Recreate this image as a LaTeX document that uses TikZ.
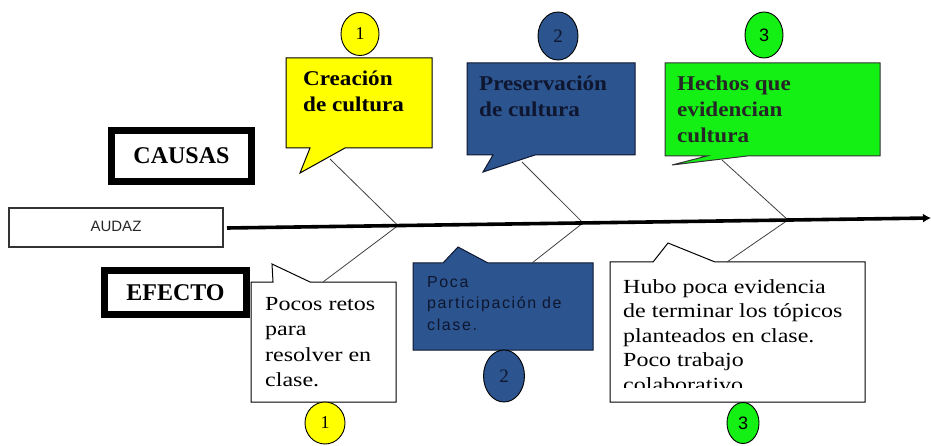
\documentclass[tikz,border=0pt]{standalone}
\usepackage{fontspec}
\setmainfont{Liberation Serif}
\setsansfont{Liberation Sans}
\newfontfamily\serifwide[FakeStretch=1.2]{Liberation Serif}
\newfontfamily\boldwide[FakeStretch=1.1]{Liberation Serif}
\newfontfamily\sanssp[LetterSpace=10]{Liberation Sans}
\usetikzlibrary{shapes.geometric,arrows.meta}
\definecolor{cyel}{RGB}{255,255,0}
\definecolor{cblu}{RGB}{44,84,142}
\definecolor{cgrn}{RGB}{20,240,20}
\definecolor{cnavy}{RGB}{14,22,48}
\tikzset{
  cbox/.style={draw=black, line width=1pt, line join=miter},
  num/.style={ellipse, draw=black, line width=0.9pt, inner sep=0pt},
  txt/.style={anchor=base west, inner sep=0pt, align=left},
  bone/.style={draw=black!75, line width=0.8pt},
  spine/.style={line width=3.6pt, -{Latex[length=8pt,width=9pt]}},
  tagbox/.style={draw=black, line width=7pt, inner sep=0pt, font=\bfseries\fontsize{24}{24}\selectfont},
}
\begin{document}
\begin{tikzpicture}[x=1pt,y=-1pt]
\useasboundingbox (0,0) rectangle (931,446);

% ---- top callouts ----
\path[cbox, fill=cyel] (286,58) -- (432,58) -- (432,148) -- (345,148) -- (300,173) -- (310,148) -- (286,148) -- cycle;
\path[cbox, fill=cblu, draw=cnavy] (467,63) -- (635,63) -- (635,155) -- (535,155) -- (483,172) -- (493,155) -- (467,155) -- cycle;
\path[cbox, fill=cgrn, draw=black!80] (665,63) -- (880,63) -- (880,156) -- (747,156) -- (672,165) -- (707,156) -- (665,156) -- cycle;

% (base anchor of a multi-line node = baseline of its last line)
\node[txt, font=\boldwide\bfseries\fontsize{21}{26}\selectfont] (t1) at (303,112) {Creación\\de cultura};
\node[txt, font=\boldwide\bfseries\fontsize{21}{26}\selectfont, text=cnavy] (t2) at (479,117) {Preservación\\de cultura};
\node[txt, font=\boldwide\bfseries\fontsize{21}{26}\selectfont, text=black!85] (t3) at (677,143) {Hechos que\\evidencian\\cultura};

% ---- bottom callouts ----
\path[cbox] (251,282) -- (273,282) -- (272,264) -- (310,282) -- (396,282) -- (396,402) -- (251,402) -- cycle;
\path[cbox, fill=cblu, draw=cnavy] (413,263) -- (443,263) -- (458,247) -- (488,263) -- (593,263) -- (593,350) -- (413,350) -- cycle;
\path[cbox] (610,262) -- (653,262) -- (668,243) -- (715,262) -- (865,262) -- (865,402) -- (610,402) -- cycle;

\node[txt, font=\serifwide\fontsize{20}{25.5}\selectfont] (b1) at (265,386.5) {Pocos retos\\para\\resolver en\\clase.};
\node[txt, font=\sanssp\fontsize{16}{21.5}\selectfont, text=cnavy] (b2) at (427,330) {Poca\\participación de\\clase.};
\begin{scope}
  \clip (611,263) rectangle (864,387.5);
  \node[txt, font=\serifwide\fontsize{20}{24.6}\selectfont] (b3) at (623,391.4) {Hubo poca evidencia\\de terminar los tópicos\\planteados en clase.\\Poco trabajo\\colaborativo};
\end{scope}

% ---- number ovals ----
\node[num, fill=cyel, minimum width=38pt, minimum height=43pt, font=\fontsize{18}{18}\selectfont] (n1t) at (360,34) {1};
\node[num, fill=cblu, minimum width=40pt, minimum height=48pt, font=\fontsize{19}{19}\selectfont, text=cnavy] (n2t) at (558,36) {2};
\node[num, fill=cgrn, minimum width=38pt, minimum height=46pt, font=\sffamily\fontsize{18}{18}\selectfont] (n3t) at (764,35) {3};
\node[num, fill=cyel, minimum width=40pt, minimum height=42pt, font=\fontsize{18}{18}\selectfont] (n1b) at (325,423) {1};
\node[num, fill=cblu, minimum width=41pt, minimum height=52pt, font=\fontsize{19}{19}\selectfont, text=cnavy] (n2b) at (504,376) {2};
\node[num, fill=cgrn, minimum width=32pt, minimum height=41pt, font=\sffamily\fontsize{18}{18}\selectfont] (n3b) at (743,423) {3};

% ---- labels ----
\node[tagbox, minimum width=140pt, minimum height=51pt] (causas) at (181.5,156) {CAUSAS};
\node[tagbox, minimum width=142pt, minimum height=44pt] (efecto) at (175.5,292.5) {EFECTO};
\node[draw=black!80, line width=1.3pt, minimum width=214pt, minimum height=39pt, inner sep=0pt,
      font=\sffamily\fontsize{15}{15}\selectfont, text=black!85] (audaz) at (116,227.5) {\raisebox{3pt}{AUDAZ}};

% ---- spine and bones ----
\coordinate (s0) at (227,228);
\coordinate (s1) at (398,225.6);
\coordinate (s2) at (583,222.9);
\coordinate (s3) at (788,220);
\coordinate (s4) at (931,218);
\coordinate (ty1) at (330,159);
\coordinate (ty2) at (522,162);
\coordinate (ty3) at (722,160);
\coordinate (by1) at (323,282);
\coordinate (by2) at (532,263);
\coordinate (by3) at (727,262);

\draw[bone] (ty1) -- (s1) -- (by1);
\draw[bone] (ty2) -- (s2) -- (by2);
\draw[bone] (ty3) -- (s3) -- (by3);
\draw[spine] (s0) -- (s4);
\end{tikzpicture}
\end{document}
